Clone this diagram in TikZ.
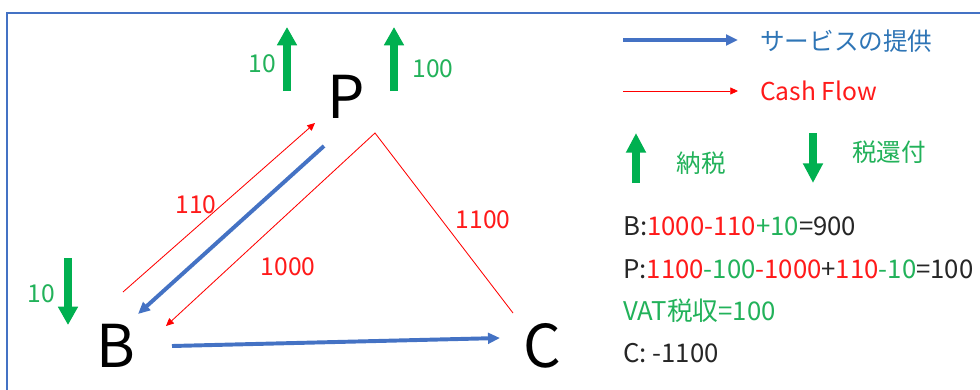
\documentclass[tikz,border=0pt]{standalone}
\usepackage{fontspec}
\setmainfont{Noto Sans CJK JP}
\usetikzlibrary{arrows.meta}
\definecolor{frameblue}{HTML}{4472C4}
\definecolor{arrowgreen}{HTML}{00B050}
\definecolor{textgreen}{HTML}{22B25A}
\definecolor{textred}{HTML}{FF1A1A}
\definecolor{legendblue}{HTML}{2E75B6}
\definecolor{darktext}{HTML}{262626}
\begin{document}
\begin{tikzpicture}[x=0.025cm,y=-0.025cm,
  big/.style={font=\fontsize{42}{46}\selectfont, inner sep=0pt, anchor=base, text=black},
  lbl/.style={font=\fontsize{17.5}{20}\selectfont, inner sep=0pt, anchor=base},
  eqn/.style={font=\fontsize{18.3}{21}\selectfont, inner sep=0pt, anchor=base west},
  service/.style={draw=frameblue, line width=2.8pt, -{Triangle[length=8.5pt,width=7.5pt]}},
  cash/.style={draw=red, line width=0.6pt, -{Triangle[length=5.5pt,width=5pt]}},
  taxarrow/.style={draw=arrowgreen, line width=5pt, -{Triangle[length=13pt,width=13.5pt]}},
]
\useasboundingbox (0,0) rectangle (980,389);
\clip (0,0) rectangle (980,389);
\fill[white] (0,0) rectangle (980,389);
\draw[frameblue, line width=1.4pt] (7,400) -- (7,13) -- (990,13);

% main nodes
\node[big] (P) at (346,118) {P};
\node[big] (B) at (116,367) {B};
\node[big] (C) at (542,367) {C};

% connector end points
\coordinate (r1s) at (123,292);
\coordinate (r1e) at (315,123);
\coordinate (b1s) at (324,146);
\coordinate (b1e) at (138,314);
\coordinate (r2s) at (513,313);
\coordinate (r2v) at (375,133);
\coordinate (r2e) at (166,326);
\coordinate (b2s) at (172,346);
\coordinate (b2e) at (500,338);

\draw[cash] (r1s) -- (r1e);
\draw[service] (b1s) -- (b1e);
\draw[cash] (r2s) -- (r2v) -- (r2e);
\draw[service] (b2s) -- (b2e);

\node[lbl, text=textred] (l110) at (196,213) {110};
\node[lbl, text=textred] (l1000) at (288,275) {1000};
\node[lbl, text=textred] (l1100) at (483,228) {1100};

% tax arrows
\coordinate (t1s) at (287,91);
\coordinate (t1e) at (287,27);
\coordinate (t2s) at (394,91);
\coordinate (t2e) at (394,27);
\coordinate (t3s) at (68,258);
\coordinate (t3e) at (68,325);
\draw[taxarrow] (t1s) -- (t1e);
\draw[taxarrow] (t2s) -- (t2e);
\draw[taxarrow] (t3s) -- (t3e);
\node[lbl, text=textgreen] (g10a) at (262,72) {10};
\node[lbl, text=textgreen] (g100) at (433,77) {100};
\node[lbl, text=textgreen] (g10b) at (41,302) {10};

% legend
\coordinate (lg1s) at (623,40);
\coordinate (lg1e) at (738,40);
\coordinate (lg2s) at (623,91);
\coordinate (lg2e) at (738,91);
\draw[service] (lg1s) -- (lg1e);
\draw[cash] (lg2s) -- (lg2e);
\node[lbl, anchor=west, text=legendblue] (lgt1) at (760,41) {サービスの提供};
\node[lbl, anchor=base west, text=textred] (lgt2) at (760,100) {Cash Flow};
\coordinate (lg3s) at (636,183);
\coordinate (lg3e) at (636,133);
\coordinate (lg4s) at (813,133);
\coordinate (lg4e) at (813,183);
\draw[taxarrow, -{Triangle[length=14pt,width=13.5pt]}] (lg3s) -- (lg3e);
\draw[taxarrow, -{Triangle[length=14pt,width=13.5pt]}] (lg4s) -- (lg4e);
\node[lbl, anchor=center, text=textgreen] (lgt3) at (701,163) {納税};
\node[lbl, anchor=center, text=textgreen] (lgt4) at (889,152) {税還付};

% balances
\node[eqn, text=darktext] (eqB) at (623,235)
  {B:\textcolor{textred}{1000-110}\textcolor{textgreen}{+10}=900};
\node[eqn, text=darktext] (eqP) at (623,278)
  {P:\textcolor{textred}{1100}\textcolor{textgreen}{-100}\textcolor{textred}{-1000}+\textcolor{textred}{110}\textcolor{textgreen}{-10}=100};
\node[eqn, text=textgreen] (eqV) at (623,320) {VAT税収=100};
\node[eqn, text=darktext] (eqC) at (623,362) {C: -1100};
\end{tikzpicture}
\end{document}
